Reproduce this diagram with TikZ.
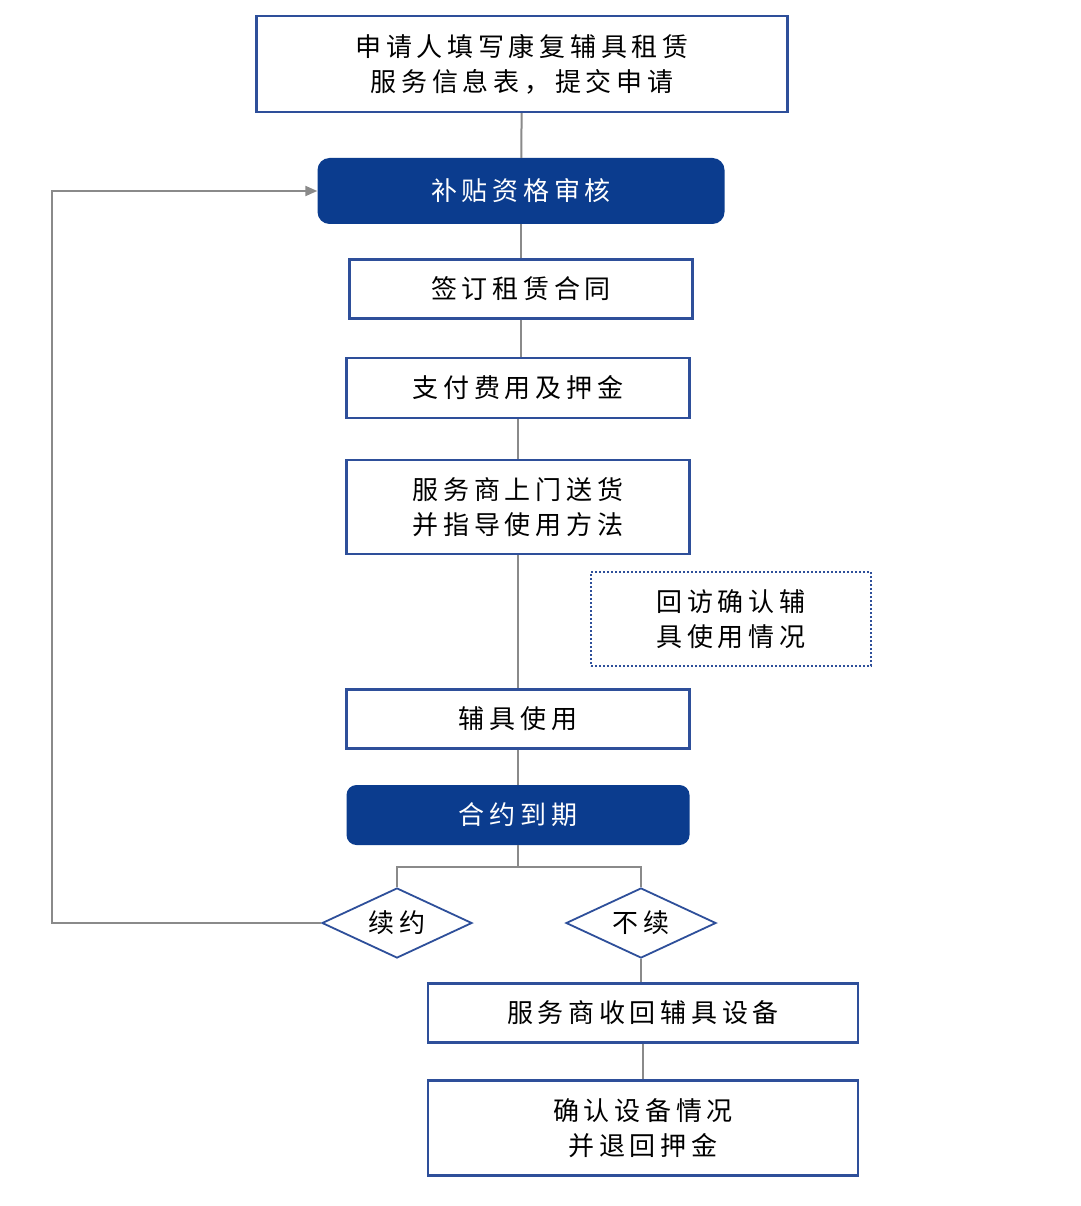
\documentclass[tikz,border=0pt]{standalone}
\usepackage{fontspec}
\setmainfont{Noto Sans CJK SC}
\usetikzlibrary{shapes.geometric,arrows.meta}
\definecolor{bd}{HTML}{2E4F9A}
\definecolor{dk}{HTML}{0B3C8E}
\definecolor{ln}{HTML}{8A8A8A}
\begin{document}
\begin{tikzpicture}[x=1pt,y=-1pt,
  ft/.style={font=\fontsize{26}{35}\selectfont\addfontfeatures{LetterSpace=18}},
  bx/.style={draw=bd,line width=2.2pt,fill=white,align=center,ft,inner sep=0pt},
  dkbox/.style={fill=dk,rounded corners=12pt,text=white,align=center,ft,inner sep=0pt},
  dia/.style={diamond,draw=bd,line width=1.8pt,fill=white,aspect=2.1,minimum width=150pt,minimum height=70pt,inner sep=0pt,ft},
  ln/.style={draw=ln,line width=2pt}]
\fill[white] (0,0) rectangle (1080,1206);
\node[bx,minimum width=531pt,minimum height=96pt] (a) at (522,64) {申请人填写康复辅具租赁\\服务信息表，提交申请};
\node[dkbox,minimum width=407pt,minimum height=66pt] (b) at (521,191) {补贴资格审核};
\node[bx,minimum width=343pt,minimum height=59pt] (c) at (521,289) {签订租赁合同};
\node[bx,minimum width=343pt,minimum height=60pt] (d) at (518,388) {支付费用及押金};
\node[bx,minimum width=343pt,minimum height=94pt] (e) at (518,507) {服务商上门送货\\并指导使用方法};
\node[draw=bd,line width=1.6pt,dash pattern=on 2pt off 2pt,align=center,ft,minimum width=280pt,minimum height=94pt,inner sep=0pt] (f) at (731,619) {回访确认辅\\具使用情况};
\node[bx,minimum width=343pt,minimum height=59pt] (g) at (518,719) {辅具使用};
\node[dkbox,rounded corners=10pt,minimum width=343pt,minimum height=60pt] (h) at (518,815) {合约到期};
\node[dia] (i) at (397,923) {续约};
\node[dia] (j) at (641,923) {不续};
\node[bx,minimum width=430pt,minimum height=59pt] (k) at (643,1013) {服务商收回辅具设备};
\node[bx,minimum width=430pt,minimum height=95pt] (l) at (643,1128) {确认设备情况\\并退回押金};
\coordinate (m) at (518,867);
\draw[ln] (a) -- (b); \draw[ln] (b.south) -- (c.north);
\draw[ln] (c.south) -- (c.south|-d.north);
\draw[ln] (d) -- (e); \draw[ln] (e) -- (g); \draw[ln] (g) -- (h);
\draw[ln] (h.south) -- (m);
\draw[ln] (i.north) |- (m) -| (j.north);
\draw[ln] (j.south) -- (j.south|-k.north);
\draw[ln] (k) -- (l);
\draw[ln,-{Triangle[length=12pt,width=10pt]}] (i.west) -- (52,923) |- (b.west);
\end{tikzpicture}
\end{document}
